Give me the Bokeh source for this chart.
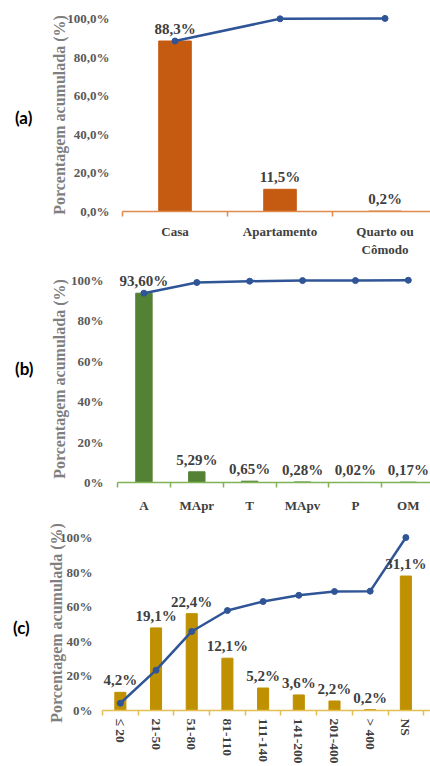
from bokeh.plotting import figure
from bokeh.layouts import row
from bokeh.models import Range1d, FixedTicker, Div
from bokeh.core.properties import value
from bokeh.embed import file_html
from bokeh.resources import INLINE

# ---------------- data ----------------
# Panel (a)
cat_a = ["Casa", "Apartamento", "Quarto ou\nCômodo"]
pct_a = [88.3, 11.5, 0.2]
cum_a = [88.3, 99.8, 100.0]
lbl_a = ["88,3%", "11,5%", "0,2%"]
ytick_a = ["0,0%", "20,0%", "40,0%", "60,0%", "80,0%", "100,0%"]

# Panel (b)
cat_b = ["A", "MApr", "T", "MApv", "P", "OM"]
pct_b = [93.60, 5.29, 0.65, 0.28, 0.02, 0.17]
cum_b = [93.60, 98.89, 99.54, 99.82, 99.84, 100.0]
lbl_b = ["93,60%", "5,29%", "0,65%", "0,28%", "0,02%", "0,17%"]
ytick_b = ["0%", "20%", "40%", "60%", "80%", "100%"]

# Panel (c)
cat_c = ["≤ 20", "21-50", "51-80", "81-110", "111-140", "141-200", "201-400", "> 400", "NS"]
pct_c = [4.2, 19.1, 22.4, 12.1, 5.2, 3.6, 2.2, 0.2, 31.1]
cum_c = [4.2, 23.3, 45.7, 57.8, 63.0, 66.6, 68.8, 69.0, 100.0]
lbl_c = ["4,2%", "19,1%", "22,4%", "12,1%", "5,2%", "3,6%", "2,2%", "0,2%", "31,1%"]
ytick_c = ["0%", "20%", "40%", "60%", "80%", "100%"]

ytick_vals = [0, 20, 40, 60, 80, 100]

SERIF = "Liberation Serif"
LINE_COLOR = "#2F5597"
PAGE_W = 430


def panel(cats, pct, cum, lbls, yticks, bar_color, axis_color, tag, tag_w,
          height, border_left, border_top, border_bottom, x_end, y_end,
          tick_standoff, title_standoff, tag_top, tag_left, bar_end=None,
          cat_font="13px", vertical=False, cat_standoff=7):
    n = len(cats)
    xs = [i + 0.5 for i in range(n)]
    p = figure(width=PAGE_W - tag_w, height=height, output_backend="svg",
               toolbar_location=None, x_range=Range1d(0, x_end),
               y_range=Range1d(0, y_end), margin=0,
               min_border_left=border_left, min_border_right=0,
               min_border_top=border_top, min_border_bottom=border_bottom)
    p.outline_line_color = None
    p.xgrid.visible = False
    p.ygrid.visible = False
    p.background_fill_color = "white"
    p.border_fill_color = "white"

    bar_kw = {}
    if bar_end is not None:
        p.extra_y_ranges = {"bars": Range1d(0, bar_end)}
        bar_kw["y_range_name"] = "bars"

    p.vbar(x=xs, top=pct, bottom=0, width=0.31, fill_color=bar_color,
           line_color=bar_color, **bar_kw)
    p.line(x=xs, y=cum, line_color=LINE_COLOR, line_width=2.5)
    p.scatter(x=xs, y=cum, size=6, fill_color=LINE_COLOR,
              line_color=LINE_COLOR)
    p.text(x=xs, y=pct, text=lbls, y_offset=-4, text_align="center",
           text_baseline="bottom", text_font=value(SERIF),
           text_font_style="bold", text_font_size="15px",
           text_color="#404040", **bar_kw)

    # x axis: labels at centres, tick marks at category boundaries
    xa = p.xaxis[0]
    xa.ticker = FixedTicker(ticks=xs, minor_ticks=list(range(n + 1)))
    xa.major_label_overrides = {x: c for x, c in zip(xs, cats)}
    xa.major_tick_in = 0
    xa.major_tick_out = 0
    xa.minor_tick_in = 0
    xa.minor_tick_out = 5
    xa.minor_tick_line_color = axis_color
    xa.minor_tick_line_width = 1.5
    xa.axis_line_color = axis_color
    xa.axis_line_width = 1.5
    xa.major_label_text_font = SERIF
    xa.major_label_text_font_style = "bold"
    xa.major_label_text_font_size = cat_font
    xa.major_label_text_color = "#404040"
    xa.major_label_standoff = cat_standoff
    if vertical:
        xa.major_label_orientation = "vertical"

    # y axis
    ya = p.yaxis[0]
    ya.ticker = FixedTicker(ticks=ytick_vals)
    ya.major_label_overrides = {v: t for v, t in zip(ytick_vals, yticks)}
    ya.axis_line_color = None
    ya.major_tick_in = 0
    ya.major_tick_out = 0
    ya.minor_tick_in = 0
    ya.minor_tick_out = 0
    ya.major_label_text_font = SERIF
    ya.major_label_text_font_style = "bold"
    ya.major_label_text_font_size = "13px"
    ya.major_label_text_color = "#595959"
    ya.major_label_standoff = tick_standoff
    ya.axis_label = "Porcentagem  acumulada  (%)"
    ya.axis_label_text_font = SERIF
    ya.axis_label_text_font_style = "bold"
    ya.axis_label_text_font_size = "16px"
    ya.axis_label_text_color = "#7F7F7F"
    ya.axis_label_standoff = title_standoff

    tag_div = Div(
        text=(f'<div style="margin-top:{tag_top}px;margin-left:{tag_left}px;'
              'font-family:Lato;font-weight:bold;font-size:17px;'
              f'line-height:20px;color:#000000;">{tag}</div>'),
        width=tag_w, height=height, margin=0)
    return row(tag_div, p, spacing=0, margin=0)


pa = panel(cat_a, pct_a, cum_a, lbl_a, ytick_a, "#C55A11", "#E08A4E", "(a)",
           tag_w=43, height=259, border_left=79, border_top=10,
           border_bottom=48, x_end=2.933, y_end=104.1, tick_standoff=13,
           title_standoff=-4, tag_top=108, tag_left=15, cat_standoff=7)

pb = panel(cat_b, pct_b, cum_b, lbl_b, ytick_b, "#548235", "#7FB356", "(b)",
           tag_w=42, height=256, border_left=75, border_top=8,
           border_bottom=30, x_end=5.92, y_end=106.3, tick_standoff=14,
           title_standoff=0, tag_top=100, tag_left=15, cat_standoff=10)

pc = panel(cat_c, pct_c, cum_c, lbl_c, ytick_c, "#BF9000", "#E3BE52", "(c)",
           tag_w=44, height=251, border_left=56, border_top=12,
           border_bottom=56, x_end=9.19, y_end=105.8, tick_standoff=10,
           title_standoff=-8, tag_top=103, tag_left=13,
           bar_end=105.8 * 0.4, cat_font="13.5px", vertical=True,
           cat_standoff=3)

open("out.html", "w").write(file_html([pa, pb, pc], INLINE))
